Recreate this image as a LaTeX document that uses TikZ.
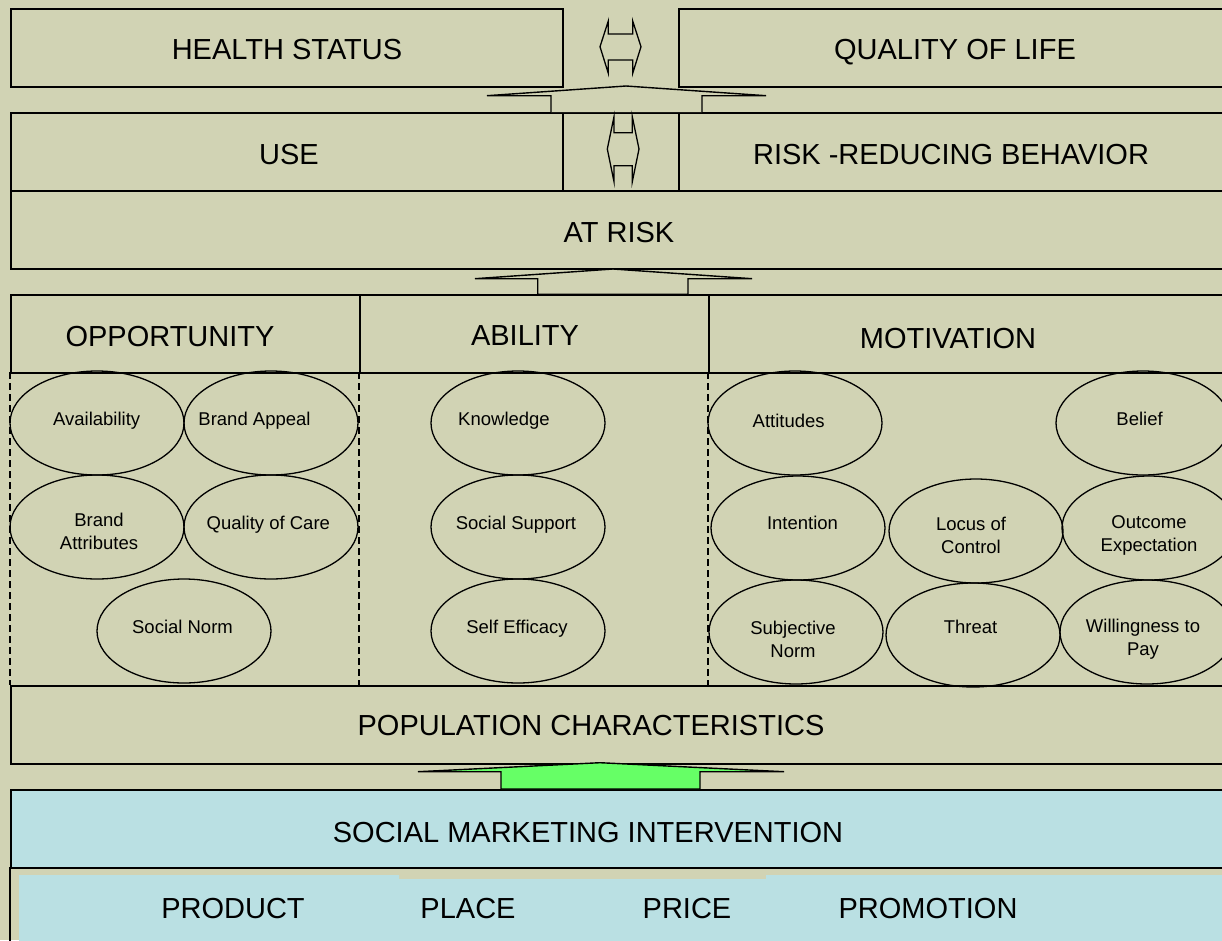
\documentclass[tikz,border=0pt]{standalone}
\usepackage{fontspec}
\setmainfont{Liberation Sans}
\usetikzlibrary{shapes.geometric}
\definecolor{tanbg}{RGB}{209,211,180}
\definecolor{lblue}{RGB}{186,224,227}
\definecolor{arrgreen}{RGB}{102,255,102}
\begin{document}
\begin{tikzpicture}[x=1pt,y=-1pt,
  box/.style={draw, line width=1.6pt, fill=tanbg, inner sep=0, anchor=north west},
  bluebox/.style={box, fill=lblue},
  lbl/.style={font=\fontsize{29}{33}\selectfont, inner sep=0, anchor=base},
  oval/.style={ellipse, draw, line width=1.3pt, minimum width=174pt, minimum height=104pt, inner sep=0},
  otxt/.style={inner sep=0, align=center, font=\fontsize{18.5}{23}\selectfont, anchor=base},
  otxt2/.style={otxt, anchor=center},
  dashsep/.style={line width=2.4pt, dash pattern=on 7pt off 4pt},
  blockarrow/.style={draw, line width=1.4pt, line join=miter},
  dblarrow/.style={draw, line width=1.3pt, line join=miter}]
\useasboundingbox (0,0) rectangle (1222,940);
\fill[tanbg] (0,0) rectangle (1222,940);
\begin{scope}
\clip (0,0) rectangle (1222,940);
% top row
\node[box, minimum width=552pt, minimum height=78pt] (hs) at (10,8) {};
\node[box, minimum width=554pt, minimum height=78pt] (qol) at (678,8) {};
\node[lbl] (hst) at (287,59.5) {HEALTH STATUS};
\node[lbl] (qolt) at (955,59.5) {QUALITY OF LIFE};
% second row
\node[box, minimum width=552pt, minimum height=78pt] (use) at (10,112) {};
\node[box, minimum width=116pt, minimum height=78pt] (mid) at (562,112) {};
\node[box, minimum width=554pt, minimum height=78pt] (rrb) at (678,112) {};
\node[lbl] (uset) at (289,164) {USE};
\node[lbl] (rrbt) at (951,164) {RISK -REDUCING BEHAVIOR};
% at risk
\node[box, minimum width=1222pt, minimum height=78pt] (ar) at (10,190) {};
\node[lbl] (art) at (619,242.5) {AT RISK};
% OAM row
\node[box, minimum width=349pt, minimum height=78pt] (opp) at (10,294) {};
\node[box, minimum width=349pt, minimum height=78pt] (abil) at (359,294) {};
\node[box, minimum width=524pt, minimum height=78pt] (mot) at (708,294) {};
\node[lbl] (oppt) at (170,346) {OPPORTUNITY};
\node[lbl] (abilt) at (525,345.7) {ABILITY};
\node[lbl] (mott) at (948,348) {MOTIVATION};
% population
\node[box, minimum width=1222pt, minimum height=78pt] (pop) at (10,685) {};
\node[lbl] (popt) at (591,735.5) {POPULATION CHARACTERISTICS};
% dashed separators
\coordinate (d1a) at (10,372); \coordinate (d1b) at (10,685);
\coordinate (d2a) at (359,372); \coordinate (d2b) at (359,685);
\coordinate (d3a) at (708,372); \coordinate (d3b) at (708,685);
\draw[dashsep] (d1a) -- (d1b);
\draw[dashsep] (d2a) -- (d2b);
\draw[dashsep] (d3a) -- (d3b);
% ellipses: opportunity
\node[oval] (avail) at (97,423) {};
\node[oval] (bapp) at (271,423) {};
\node[oval] (batt) at (97,527) {};
\node[oval] (qoc) at (271,527) {};
\node[oval] (snorm) at (184,631) {};
% ability
\node[oval] (know) at (518,423) {};
\node[oval] (ssup) at (518,527) {};
\node[oval] (seff) at (518,631) {};
% motivation
\node[oval] (att) at (795,423) {};
\node[oval] (bel) at (1143,423) {};
\node[oval] (intn) at (798,528) {};
\node[oval] (loc) at (976,531) {};
\node[oval] (oexp) at (1149,528) {};
\node[oval] (subj) at (796,632) {};
\node[oval] (thr) at (973,635) {};
\node[oval] (wtp) at (1147,632) {};
% ellipse texts
\node[otxt] (availt) at (96.7,425.8) {Availability};
\node[otxt] (bappt) at (254.5,425.8) {Brand Appeal};
\node[otxt2] (battt) at (99,531) {Brand\\Attributes};
\node[otxt] (qoct) at (268.3,529.8) {Quality of Care};
\node[otxt] (snormt) at (182.5,633.2) {Social Norm};
\node[otxt] (knowt) at (504,425.8) {Knowledge};
\node[otxt] (ssupt) at (516,529.8) {Social Support};
\node[otxt] (sefft) at (517,633.2) {Self Efficacy};
\node[otxt] (attt) at (788.7,427.5) {Attitudes};
\node[otxt] (belt) at (1139.6,425.5) {Belief};
\node[otxt] (intnt) at (802.5,529.8) {Intention};
\node[otxt2] (loct) at (971,535) {Locus of\\Control};
\node[otxt2] (oexpt) at (1149,535.5) {Outcome\\Expectation};
\node[otxt2] (subjt) at (793,639.5) {Subjective\\Norm};
\node[otxt] (thrt) at (970.5,633.2) {Threat};
\node[otxt2] (wtpt) at (1143,639.5) {Willingness to\\Pay};
% social marketing
\node[bluebox, minimum width=1222pt, minimum height=78pt] (smi) at (10,789) {};
\node[lbl] (smit) at (588,842.5) {SOCIAL MARKETING INTERVENTION};
\coordinate (bl1) at (10,867); \coordinate (bl2) at (10,945);
\draw[line width=1.6pt] (bl1) -- (bl2);
\fill[lblue] (19,875) -- (399,875) -- (399,879) -- (766,879) -- (766,875) -- (1232,875) -- (1232,945) -- (19,945) -- cycle;
\node[lbl] (prod) at (233,918.3) {PRODUCT};
\node[lbl] (place) at (468,918.3) {PLACE};
\node[lbl] (price) at (687,918.3) {PRICE};
\node[lbl] (promo) at (928,918.3) {PROMOTION};
% block arrows
\filldraw[blockarrow, fill=tanbg] (551,112) -- (551,95.7) -- (487,95.7) -- (626,86) -- (766,95.7) -- (702,95.7) -- (702,112);
\filldraw[blockarrow, fill=tanbg] (537.7,294.3) -- (537.7,278.7) -- (475,278.7) -- (613,269) -- (752,278.7) -- (688,278.7) -- (688,294.3) -- cycle;
\filldraw[blockarrow, fill=arrgreen] (501,789) -- (501,771.7) -- (418,771.7) -- (600,762.7) -- (784,771.7) -- (700,771.7) -- (700,789) -- cycle;
% double arrows
\draw[dblarrow] (608.3,21) -- (608.3,34) -- (632.7,34) -- (632.7,21) -- (641,46.7) -- (632.7,73.3) -- (632.7,60) -- (608.3,60) -- (608.3,73.3) -- (600,46.7) -- cycle;
\draw[dblarrow] (614,116.7) -- (614,132.7) -- (632.3,132.7) -- (632.3,116.7) -- (639,149) -- (632.3,181.7) -- (632.3,165.7) -- (614,165.7) -- (614,181.7) -- (607.3,149) -- cycle;
\end{scope}
\end{tikzpicture}
\end{document}
